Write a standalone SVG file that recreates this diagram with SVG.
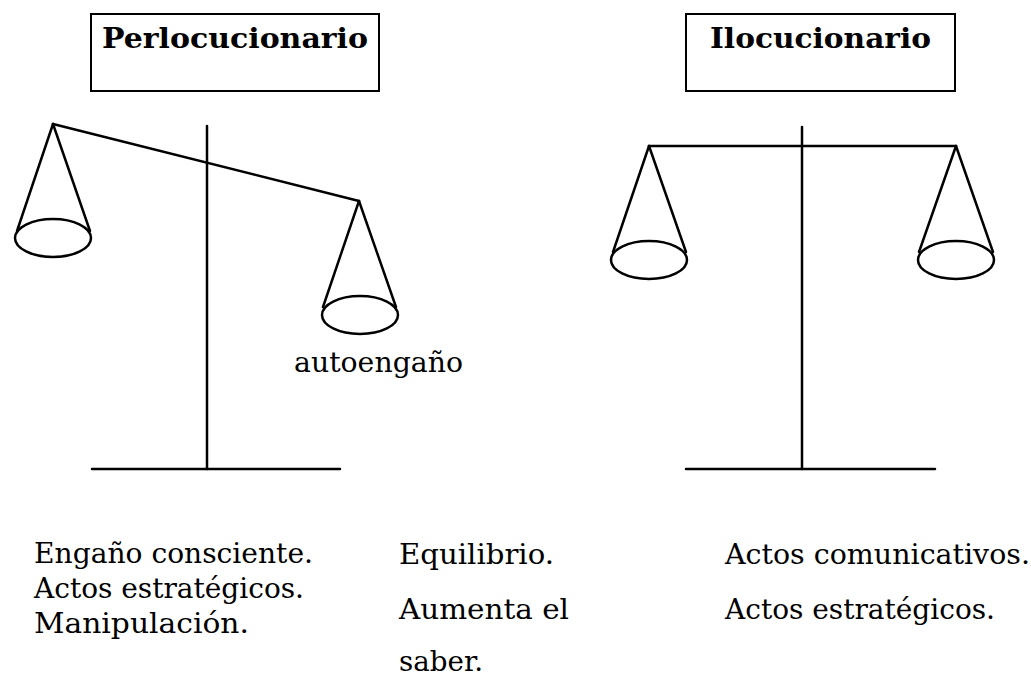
<svg xmlns="http://www.w3.org/2000/svg" width="1031" height="681" viewBox="0 0 1031 681">
<style>
.ln{stroke:#000;stroke-width:2.5;fill:none;stroke-linecap:round}
.bx{stroke:#000;stroke-width:2;fill:#fff}
.t{font-family:"DejaVu Serif","Liberation Serif",serif;font-size:27px;fill:#000}
.h{font-family:"DejaVu Serif","Liberation Serif",serif;font-size:28px;font-weight:bold;fill:#000}
</style>
<rect width="1031" height="681" fill="#fff"/>
<g id="perlocucionario-title">
<rect class="bx" x="91" y="14" width="288" height="77"/>
<text class="h" x="102" y="48" textLength="266" lengthAdjust="spacingAndGlyphs">Perlocucionario</text>
</g>
<g id="ilocucionario-title">
<rect class="bx" x="686" y="14" width="269" height="77"/>
<text class="h" x="710" y="48" textLength="221" lengthAdjust="spacingAndGlyphs">Ilocucionario</text>
</g>
<g id="scale-left">
<line class="ln" x1="207" y1="126" x2="207" y2="469"/>
<line class="ln" x1="92" y1="469" x2="340" y2="469"/>
<line class="ln" x1="53" y1="124" x2="359" y2="201"/>
<line class="ln" x1="53" y1="124" x2="17" y2="231"/>
<line class="ln" x1="53" y1="124" x2="90" y2="231"/>
<ellipse class="ln" cx="53" cy="238" rx="38" ry="19"/>
<line class="ln" x1="359" y1="201" x2="323" y2="307"/>
<line class="ln" x1="359" y1="201" x2="396" y2="307"/>
<ellipse class="ln" cx="360" cy="315" rx="38" ry="19"/>
</g>
<g id="scale-right">
<line class="ln" x1="802" y1="127" x2="802" y2="469"/>
<line class="ln" x1="686" y1="469" x2="935" y2="469"/>
<line class="ln" x1="649" y1="146" x2="956" y2="146"/>
<line class="ln" x1="649" y1="146" x2="613" y2="252"/>
<line class="ln" x1="649" y1="146" x2="686" y2="252"/>
<ellipse class="ln" cx="649" cy="260" rx="38" ry="19"/>
<line class="ln" x1="956" y1="146" x2="919" y2="252"/>
<line class="ln" x1="956" y1="146" x2="993" y2="252"/>
<ellipse class="ln" cx="956" cy="260" rx="38" ry="19"/>
</g>
<g id="labels">
<text class="t" x="294" y="372" textLength="169" lengthAdjust="spacingAndGlyphs">autoengaño</text>
<text class="t" x="34" y="563" textLength="279" lengthAdjust="spacingAndGlyphs">Engaño consciente.</text>
<text class="t" x="34" y="598" textLength="270" lengthAdjust="spacingAndGlyphs">Actos estratégicos.</text>
<text class="t" x="34" y="633" textLength="215" lengthAdjust="spacingAndGlyphs">Manipulación.</text>
<text class="t" x="399" y="564" textLength="155" lengthAdjust="spacingAndGlyphs">Equilibrio.</text>
<text class="t" x="399" y="619" textLength="170" lengthAdjust="spacingAndGlyphs">Aumenta el</text>
<text class="t" x="399" y="671" textLength="84" lengthAdjust="spacingAndGlyphs">saber.</text>
<text class="t" x="725" y="564" textLength="305" lengthAdjust="spacingAndGlyphs">Actos comunicativos.</text>
<text class="t" x="725" y="619" textLength="270" lengthAdjust="spacingAndGlyphs">Actos estratégicos.</text>
</g>
</svg>
